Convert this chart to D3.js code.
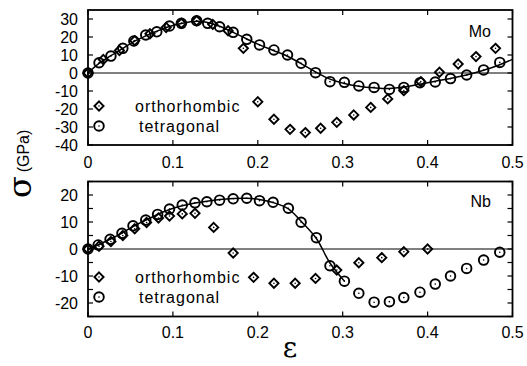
<!DOCTYPE html>
<html><head><meta charset="utf-8">
<script src="https://cdn.jsdelivr.net/npm/d3@7"></script>
<style>
body{margin:0;background:#fff;}
text{font-family:"Liberation Sans",Arial,sans-serif;fill:#000;}
</style></head>
<body>
<svg id="c" width="527" height="366"></svg>
<script>
// ---------- DATA ----------
const xTicks = [0, 0.1, 0.2, 0.3, 0.4, 0.5];
const xTickLabels = ["0", "0.1", "0.2", "0.3", "0.4", "0.5"];
const moYTicks = [30, 20, 10, 0, -10, -20, -30, -40];
const nbYTicks = [20, 10, 0, -10, -20];
const nbYMinor = [25, 20, 15, 10, 5, 0, -5, -10, -15, -20, -25];

// Mo tetragonal [strain, stress]
const moTetra = [[0,0],[0.013,5.7],[0.027,9.4],[0.041,13.7],[0.054,17.8],[0.068,21.1],[0.081,22.9],[0.096,26.1],[0.110,27.6],[0.128,29],[0.141,27.6],[0.155,25.7],[0.171,22.6],[0.187,18.7],[0.202,15.6],[0.219,12.8],[0.235,10],[0.251,5.4],[0.268,0.2],[0.285,-4.8],[0.302,-5.2],[0.319,-7.2],[0.337,-8],[0.355,-9.1],[0.372,-8],[0.391,-5.4],[0.409,-5],[0.427,-3.1],[0.446,-1.1],[0.466,1.7],[0.485,5.9]];
// Mo orthorhombic
const moOrtho = [[0,0],[0.018,7.5],[0.037,12.5],[0.055,18],[0.073,21.8],[0.092,25.3],[0.110,27.6],[0.128,29],[0.147,27],[0.165,23.5],[0.183,13.7],[0.200,-16],[0.219,-25.7],[0.238,-31.3],[0.256,-33.1],[0.274,-30.7],[0.293,-27.4],[0.313,-23.3],[0.333,-19.1],[0.353,-14.4],[0.372,-9.8],[0.392,-4.8],[0.414,0.4],[0.436,5],[0.457,9.1],[0.480,13.7]];
// Mo fit curve
const moFit = [[0,0],[0.013,5.3],[0.027,9.6],[0.041,13.7],[0.054,17.4],[0.068,20.6],[0.081,23.2],[0.096,25.8],[0.110,27.5],[0.128,28.7],[0.141,28],[0.155,26],[0.171,22.6],[0.187,18.9],[0.202,15.6],[0.219,12.4],[0.235,9.3],[0.251,5.2],[0.268,0.6],[0.285,-3.4],[0.302,-5.8],[0.319,-7.3],[0.337,-8.2],[0.355,-8.6],[0.372,-7.8],[0.391,-6.2],[0.409,-4.6],[0.427,-3],[0.446,-1.1],[0.466,1.5],[0.485,4.6],[0.5,7.6]];

// Nb tetragonal
const nbTetra = [[0,0],[0.012,1.5],[0.026,3.6],[0.040,5.8],[0.053,8.6],[0.068,10.7],[0.082,12.8],[0.096,14.8],[0.111,16.3],[0.126,17.1],[0.140,17.5],[0.155,18.1],[0.171,18.6],[0.187,18.8],[0.202,17.9],[0.218,17.3],[0.236,15.1],[0.251,9.9],[0.269,4.2],[0.285,-6.2],[0.302,-11.9],[0.319,-16.4],[0.337,-19.7],[0.355,-19.5],[0.372,-18],[0.391,-16],[0.409,-13],[0.427,-10],[0.446,-7.2],[0.466,-4.1],[0.485,-1.2]];
// Nb orthorhombic
const nbOrtho = [[0,0],[0.013,1],[0.027,2.8],[0.041,5],[0.055,7.5],[0.069,9.8],[0.083,11.5],[0.096,12.2],[0.111,13],[0.126,13.2],[0.148,8],[0.171,-1.5],[0.195,-10.5],[0.219,-12.7],[0.244,-12.7],[0.268,-10.9],[0.293,-7.8],[0.319,-5.1],[0.346,-3.2],[0.372,-1],[0.400,0]];
// Nb fit curve
const nbFit = [[0,0],[0.012,1.5],[0.026,3.6],[0.040,5.9],[0.053,8.3],[0.068,10.7],[0.082,12.8],[0.096,14.6],[0.111,16],[0.126,17],[0.140,17.7],[0.155,18.3],[0.171,18.7],[0.187,18.8],[0.202,18.3],[0.218,17.2],[0.236,14.9],[0.251,10.3],[0.269,3.9],[0.285,-5.2],[0.302,-11.9]];

const legendLabels = ["orthorhombic", "tetragonal"];
const panelNames = ["Mo", "Nb"];

// ---------- DRAW ----------
const svg = d3.select("#c");
const x = d3.scaleLinear().domain([0, 0.5]).range([88, 512.5]);

function diamond(g, pts, sx, sy) {
  const s = 4.6;
  const sel = g.selectAll(null).data(pts).enter().append("g")
    .attr("transform", d => `translate(${sx(d[0])},${sy(d[1])})`);
  sel.append("path").attr("d", `M0,${-s}L${s},0L0,${s}L${-s},0Z`)
    .attr("fill", "none").attr("stroke", "#000").attr("stroke-width", 1.9);
  sel.append("circle").attr("r", 0.8).attr("fill", "#000");
}
function ring(g, pts, sx, sy) {
  const sel = g.selectAll(null).data(pts).enter().append("g")
    .attr("transform", d => `translate(${sx(d[0])},${sy(d[1])})`);
  sel.append("circle").attr("r", 4.8)
    .attr("fill", "none").attr("stroke", "#000").attr("stroke-width", 1.9);
  sel.append("circle").attr("r", 0.8).attr("fill", "#000");
}

function panel(opt) {
  const y = d3.scaleLinear().domain(opt.domain).range(opt.range);
  const g = svg.append("g");
  const [x0, x1] = x.range();
  const [yb, yt] = y.range();
  // zero line
  g.append("line").attr("x1", x0).attr("x2", x1).attr("y1", y(0)).attr("y2", y(0))
    .attr("stroke", "#000").attr("stroke-width", 1);
  // ticks inside
  const tl = 5;
  xTicks.forEach(t => {
    g.append("line").attr("x1", x(t)).attr("x2", x(t)).attr("y1", yb).attr("y2", yb - tl).attr("stroke", "#000").attr("stroke-width", 1.2);
    g.append("line").attr("x1", x(t)).attr("x2", x(t)).attr("y1", yt).attr("y2", yt + tl).attr("stroke", "#000").attr("stroke-width", 1.2);
  });
  opt.minor.forEach(t => {
    g.append("line").attr("x1", x0).attr("x2", x0 + tl).attr("y1", y(t)).attr("y2", y(t)).attr("stroke", "#000").attr("stroke-width", 1.2);
    g.append("line").attr("x1", x1).attr("x2", x1 - tl).attr("y1", y(t)).attr("y2", y(t)).attr("stroke", "#000").attr("stroke-width", 1.2);
  });
  // labels
  opt.yTicks.forEach(t => {
    g.append("text").attr("x", 78).attr("y", y(t)).attr("dy", "0.36em")
      .attr("text-anchor", "end").attr("font-size", 16).text(t);
  });
  xTicks.forEach((t, i) => {
    g.append("text").attr("x", x(t)).attr("y", yb + opt.xLabOff)
      .attr("text-anchor", "middle").attr("font-size", 16).text(xTickLabels[i]);
  });
  // fit line
  g.append("path").datum(opt.fit)
    .attr("d", d3.line().x(d => x(d[0])).y(d => y(d[1])).curve(d3.curveCatmullRom))
    .attr("fill", "none").attr("stroke", "#000").attr("stroke-width", 1.5);
  ring(g, opt.tetra, x, y);
  diamond(g, opt.ortho, x, y);
  // frame
  g.append("rect").attr("x", x0).attr("y", yt).attr("width", x1 - x0).attr("height", yb - yt)
    .attr("fill", "none").attr("stroke", "#000").attr("stroke-width", 1.8);
  // legend
  const lx = 99;
  const lg = g.append("g");
  diamond(lg, [[0, 0]], v => lx, v => opt.legY[0]);
  ring(lg, [[0, 0]], v => lx, v => opt.legY[1]);
  lg.append("text").attr("x", 135).attr("y", opt.legY[0]).attr("dy", "0.36em")
    .attr("font-size", 16).attr("letter-spacing", 1).text(legendLabels[0]);
  lg.append("text").attr("x", 139).attr("y", opt.legY[1]).attr("dy", "0.36em")
    .attr("font-size", 16).attr("letter-spacing", 1).text(legendLabels[1]);
  g.append("text").attr("x", 491).attr("y", opt.nameY).attr("text-anchor", "end")
    .attr("font-size", 16).text(opt.name);
}

panel({domain: [-40, 35], range: [145, 10], yTicks: moYTicks, minor: moYTicks,
  fit: moFit, tetra: moTetra, ortho: moOrtho, legY: [106, 126], name: panelNames[0], nameY: 37, xLabOff: 23});
panel({domain: [-25, 25], range: [316.5, 181.5], yTicks: nbYTicks, minor: nbYMinor,
  fit: nbFit, tetra: nbTetra, ortho: nbOrtho, legY: [277, 297], name: panelNames[1], nameY: 207, xLabOff: 21});

// axis titles
svg.append("text").attr("transform", "translate(31,187) rotate(-90)")
  .attr("text-anchor", "middle").attr("font-size", 32)
  .style("font-family", "'DejaVu Serif',serif").text("σ");
svg.append("text").attr("transform", "translate(29,151) rotate(-90)")
  .attr("text-anchor", "middle").attr("font-size", 16).text("(GPa)");
svg.append("text").attr("x", 290).attr("y", 357)
  .attr("text-anchor", "middle").attr("font-size", 28)
  .style("font-family", "'DejaVu Serif',serif").text("ε");
</script>
</body></html>
